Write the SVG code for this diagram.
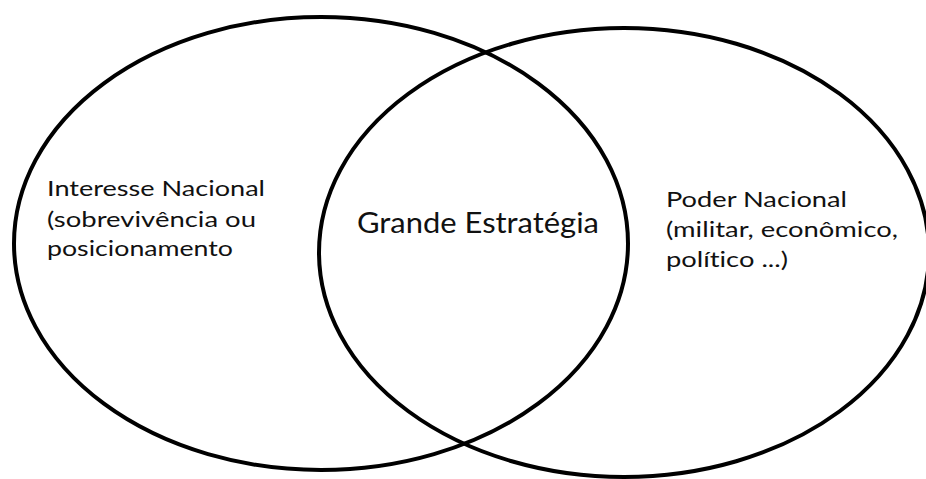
<svg xmlns="http://www.w3.org/2000/svg" width="926" height="479" viewBox="0 0 926 479">
<style>
.c{fill:none;stroke:#000;stroke-width:4}
.t{font-family:Lato,"Open Sans","Liberation Sans",sans-serif;fill:#111;font-variant-ligatures:none;font-feature-settings:"liga" 0,"dlig" 0}
.s{font-size:21.5px}
.m{font-size:28px}
</style>
<rect width="926" height="479" fill="#fff"/>
<g id="interesse">
<ellipse class="c" cx="321" cy="243.5" rx="307" ry="226.5"/>
<text class="t s" x="47" y="196" textLength="218" lengthAdjust="spacingAndGlyphs">Interesse Nacional</text>
<text class="t s" x="47" y="227" textLength="209" lengthAdjust="spacingAndGlyphs">(sobrevivência ou</text>
<text class="t s" x="47" y="256" textLength="186" lengthAdjust="spacingAndGlyphs">posicionamento</text>
</g>
<g id="poder">
<ellipse class="c" cx="624" cy="252.5" rx="305" ry="224.5"/>
<text class="t s" x="666" y="207" textLength="181" lengthAdjust="spacingAndGlyphs">Poder Nacional</text>
<text class="t s" x="666" y="237" textLength="232" lengthAdjust="spacingAndGlyphs">(militar, econômico,</text>
<text class="t s" x="666" y="267" textLength="122" lengthAdjust="spacingAndGlyphs">político ...)</text>
</g>
<g id="grande">
<text class="t m" x="357" y="233" textLength="242" lengthAdjust="spacingAndGlyphs">Grande Estratégia</text>
</g>
<g id="connectors"></g>
</svg>
